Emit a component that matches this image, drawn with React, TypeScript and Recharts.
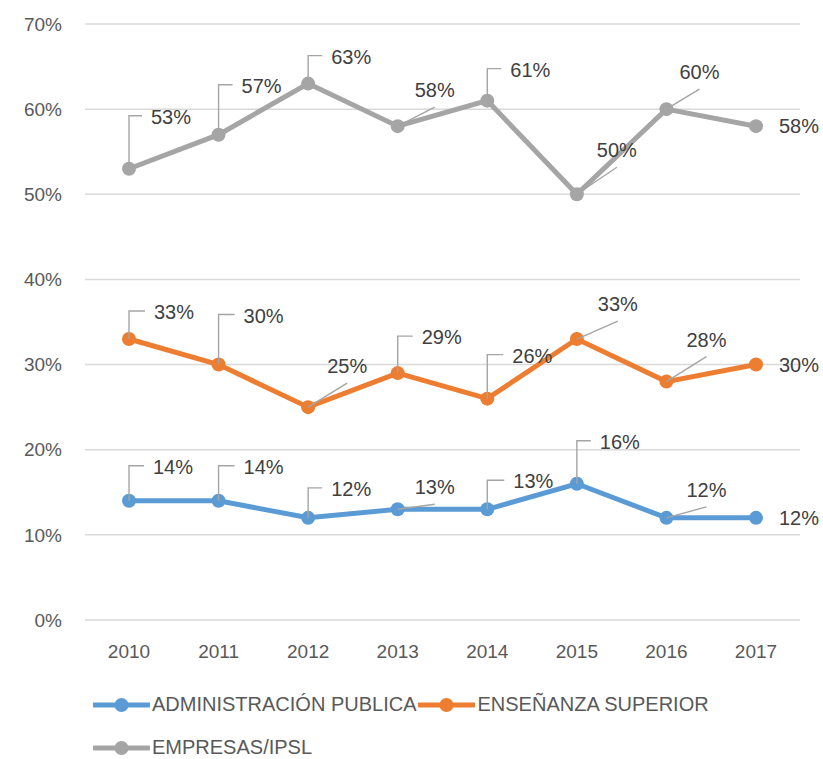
import React from "react";
import { LineChart, Line, XAxis, YAxis, CartesianGrid, Legend, LabelList } from "recharts";

const years = ["2010", "2011", "2012", "2013", "2014", "2015", "2016", "2017"];
const administracion = [14, 14, 12, 13, 13, 16, 12, 12];
const ensenanza = [33, 30, 25, 29, 26, 33, 28, 30];
const empresas = [53, 57, 63, 58, 61, 50, 60, 58];
const yTicks = [0, 10, 20, 30, 40, 50, 60, 70];

const seriesNames = ["ADMINISTRACIÓN PUBLICA", "ENSEÑANZA SUPERIOR", "EMPRESAS/IPSL"];
const colors = ["#5B9BD5", "#ED7D31", "#A5A5A5"];

// label placement (offset of label text from its point, and leader style)
type Place = [number, number, "up" | "diag" | "right"];
const adminPlace: Place[] = [
  [24, -34, "up"], [25, -34, "up"], [23, -29, "up"], [17, -22, "diag"],
  [26, -28, "up"], [23, -42, "up"], [20, -28, "diag"], [23, 0, "right"],
];
const ensPlace: Place[] = [
  [25, -27, "up"], [25, -49, "up"], [19, -41, "diag"], [24, -36, "up"],
  [25, -43, "up"], [21, -35, "diag"], [20, -42, "diag"], [23, 0, "right"],
];
const empPlace: Place[] = [
  [22, -52, "up"], [23, -49, "up"], [23, -27, "up"], [17, -36, "diag"],
  [23, -31, "up"], [20, -44, "diag"], [13, -37, "diag"], [23, 0, "right"],
];

const data = years.map((y, i) => ({
  year: y,
  admin: administracion[i],
  ens: ensenanza[i],
  emp: empresas[i],
}));

const FONT = "'Liberation Sans', Arial, sans-serif";

function makeLabel(places: Place[]) {
  return (props: any) => {
    const { x, y, value, index } = props;
    const p = places[index];
    if (!p || x == null || y == null) return null;
    const [dx, dy, kind] = p;
    let leader = null;
    if (kind === "up") {
      const ly = y + dy - 1;
      leader = <polyline points={`${x},${y} ${x},${ly} ${x + dx - 9},${ly}`} fill="none" stroke="#A5A5A5" strokeWidth={1.4} />;
    } else if (kind === "diag") {
      leader = <line x1={x} y1={y} x2={x + dx + 20} y2={y + dy + 17} stroke="#A5A5A5" strokeWidth={1.4} />;
    }
    return (
      <g>
        {leader}
        <text x={x + dx} y={y + dy} dominantBaseline="central" textAnchor="start" fill="#404040" fontSize={20} fontFamily={FONT}>
          {value}%
        </text>
      </g>
    );
  };
}

function LegendContent() {
  return (
    <div style={{ display: "flex", flexWrap: "wrap", width: 660, paddingLeft: 93, paddingTop: 4, fontFamily: FONT, fontSize: 20, color: "#595959" }}>
      {seriesNames.map((n, i) => (
        <div key={n} style={{ display: "flex", alignItems: "center", height: 43, marginRight: 2 }}>
          <svg width={57} height={16}>
            <line x1={1} y1={8} x2={56} y2={8} stroke={colors[i]} strokeWidth={5} strokeLinecap="round" />
            <circle cx={28.5} cy={8} r={7} fill={colors[i]} />
          </svg>
          <span style={{ marginLeft: 2 }}>{n}</span>
        </div>
      ))}
    </div>
  );
}

export default function App() {
  return (
    <div style={{ position: "absolute", left: 0, top: 0, width: 823, height: 759, background: "#fff" }}>
      <LineChart width={823} height={759} data={data} margin={{ top: 24, right: 23, left: 0, bottom: 0 }}>
        <CartesianGrid vertical={false} stroke="#D9D9D9" strokeWidth={1.5} />
        <XAxis
          dataKey="year"
          padding={{ left: 44, right: 44 }}
          axisLine={false}
          tickLine={false}
          tickSize={0}
          tickMargin={25}
          height={59}
          tick={{ fill: "#595959", fontSize: 19, fontFamily: FONT }}
        />
        <YAxis
          width={85}
          domain={[0, 70]}
          ticks={yTicks}
          tickFormatter={(v: number) => `${v}%`}
          axisLine={false}
          tickLine={false}
          tickSize={0}
          tickMargin={23}
          tick={{ fill: "#595959", fontSize: 19, fontFamily: FONT }}
        />
        <Legend verticalAlign="bottom" align="left" content={() => <LegendContent />} wrapperStyle={{ height: 80 }} />
        <Line dataKey="admin" name={seriesNames[0]} stroke={colors[0]} strokeWidth={5} dot={{ r: 7, fill: colors[0], stroke: "none" }} isAnimationActive={false}>
          <LabelList dataKey="admin" content={makeLabel(adminPlace)} />
        </Line>
        <Line dataKey="ens" name={seriesNames[1]} stroke={colors[1]} strokeWidth={5} dot={{ r: 7, fill: colors[1], stroke: "none" }} isAnimationActive={false}>
          <LabelList dataKey="ens" content={makeLabel(ensPlace)} />
        </Line>
        <Line dataKey="emp" name={seriesNames[2]} stroke={colors[2]} strokeWidth={5} dot={{ r: 7, fill: colors[2], stroke: "none" }} isAnimationActive={false}>
          <LabelList dataKey="emp" content={makeLabel(empPlace)} />
        </Line>
      </LineChart>
    </div>
  );
}
